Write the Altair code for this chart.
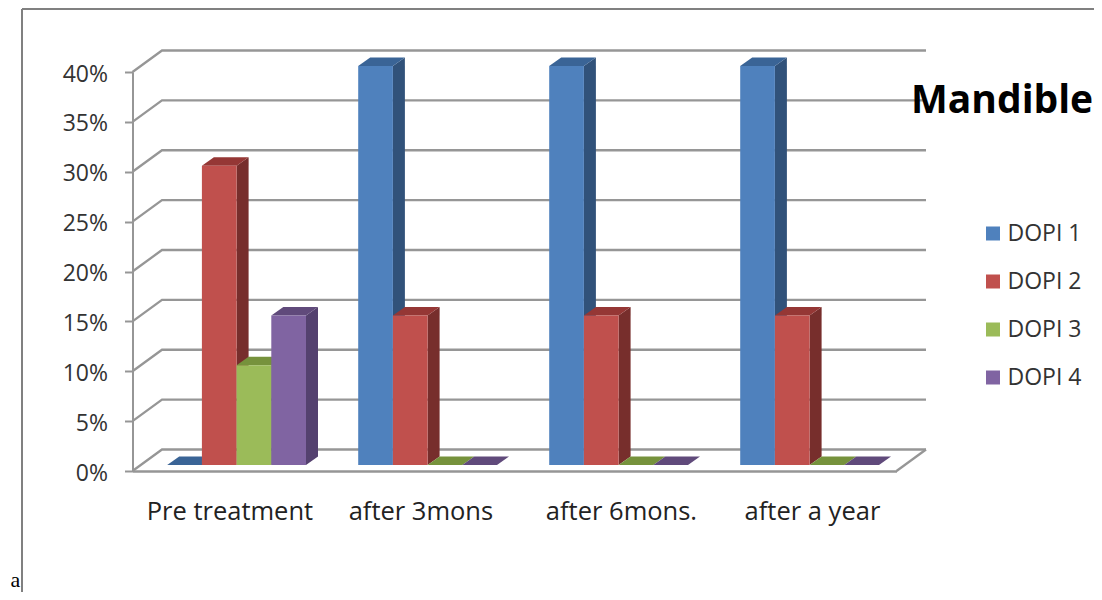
import altair as alt
import pandas as pd

# ---- data ----
categories = ["Pre treatment", "after 3mons", "after 6mons.", "after a year"]
series = ["DOPI 1", "DOPI 2", "DOPI 3", "DOPI 4"]
dopi1 = [0, 40, 40, 40]
dopi2 = [30, 15, 15, 15]
dopi3 = [10, 0, 0, 0]
dopi4 = [15, 0, 0, 0]
ticks = [0, 5, 10, 15, 20, 25, 30, 35, 40]

# ---- styles ----
front = ["#4F81BD", "#C0504D", "#9BBB59", "#8064A2"]
top_c = ["#3A6496", "#953735", "#76923C", "#604A7B"]
side_c = ["#31527A", "#772E2C", "#63793A", "#54416F"]
GRID = "#969696"
FONT = "Open Sans"

# ---- pseudo-3D layout, in axis units ----
PX_X = 191.0  # px per category
PX_Y = 9.975  # px per percent
WALL_DX, WALL_DY = 29.5 / PX_X, 21.5 / PX_Y
BAR_DX, BAR_DY = 12 / PX_X, 8.5 / PX_Y
BAR_W = 34.7 / PX_X
BAR_X0 = 34.7 / PX_X  # left of the first bar inside a category slot
BASE = 6 / PX_Y       # bars stand a little behind the front edge
LABEL_SHIFT = [0.01, 0.01, 0.06, 0.06]

xs = alt.Scale(domain=[0, 4], nice=False, zero=False)
ys = alt.Scale(domain=[0, 40], nice=False, zero=False)
x_axis = alt.Axis(values=[0], domainColor=GRID, domainWidth=2.5, ticks=False, labels=False,
                  grid=False, title=None)
y_axis = alt.Axis(values=ticks, labelExpr="datum.value + '%'", labelFont=FONT, labelFontSize=23,
                  labelColor="#333333", labelPadding=17, labelOffset=2, tickColor=GRID, tickSize=8,
                  tickWidth=2, domainColor=GRID, domainWidth=2, grid=False, title=None)
X = lambda f: alt.X(f, type="quantitative", scale=xs, axis=x_axis)
Y = lambda f: alt.Y(f, type="quantitative", scale=ys, axis=y_axis)

# walls
wall = []
for t in ticks:
    wall += [
        dict(k=t, o=0, x=0, y=t),
        dict(k=t, o=1, x=WALL_DX, y=t + WALL_DY),
        dict(k=t, o=2, x=4 + WALL_DX, y=t + WALL_DY),
    ]
wall += [dict(k=-1, o=0, x=4, y=0), dict(k=-1, o=1, x=4 + WALL_DX, y=WALL_DY)]
walls = alt.Chart(pd.DataFrame(wall)).mark_line(color=GRID, strokeWidth=2.3, clip=False).encode(
    x=X("x"), y=Y("y"), detail="k:N", order="o:Q"
)

layers = [walls]
values = [dopi1, dopi2, dopi3, dopi4]
color_scale = alt.Scale(domain=series, range=front)
for s, name in enumerate(series):
    sides, tops, fronts = [], [], []
    for i, v in enumerate(values[s]):
        left = i + BAR_X0 + s * BAR_W
        right = left + BAR_W
        hi = v + BASE
        fronts.append(dict(series=name, x=left, x2=right, y=hi, y2=BASE))
        for f in (0, 1):
            sides.append(dict(g=i, x=right + f * BAR_DX, y=hi + f * BAR_DY, y2=BASE + f * BAR_DY))
            tops.append(dict(g=i, x=left + f * BAR_DX, x2=right + f * BAR_DX, y=hi + f * BAR_DY))
    layers.append(alt.Chart(pd.DataFrame(sides)).mark_area(color=side_c[s], clip=False).encode(
        x=X("x"), y=Y("y"), y2="y2:Q", detail="g:N"))
    layers.append(alt.Chart(pd.DataFrame(tops)).mark_area(color=top_c[s], orient="horizontal", clip=False).encode(
        y=Y("y"), x=X("x"), x2="x2:Q", detail="g:N"))
    layers.append(alt.Chart(pd.DataFrame(fronts)).mark_rect(clip=False).encode(
        x=X("x"), x2="x2:Q", y=Y("y"), y2="y2:Q",
        color=alt.Color("series:N", scale=color_scale, title=None, legend=alt.Legend(
            orient="none", legendX=849, legendY=150, symbolType="square", symbolSize=196,
            symbolStrokeWidth=0, labelFont=FONT, labelFontSize=23, labelColor="#333333",
            labelOffset=3, rowPadding=24, values=series)),
    ))

# category labels
cat_df = pd.DataFrame({"label": categories, "x": [i + 0.5 + LABEL_SHIFT[i] for i in range(4)]})
layers.append(alt.Chart(cat_df).mark_text(font=FONT, fontSize=25.5, color="#222222", baseline="middle").encode(
    x=X("x"), y=alt.value(439.5), text="label:N"))

# chart name
layers.append(alt.Chart(pd.DataFrame({"t": ["Mandible"]})).mark_text(
    font=FONT, fontSize=39, fontWeight="bold", color="#000000", align="left", baseline="alphabetic"
).encode(x=alt.value(778.5), y=alt.value(41), text="t:N"))

# surrounding document frame and the stray letter
frame_c = "#808080"
layers.append(alt.Chart(pd.DataFrame({"a": [0]})).mark_rule(color=frame_c, strokeWidth=2, clip=False).encode(
    x=alt.value(-110.5), y=alt.value(-63), y2=alt.value(520)))
layers.append(alt.Chart(pd.DataFrame({"a": [0]})).mark_rule(color=frame_c, strokeWidth=2, clip=False).encode(
    x=alt.value(-110.5), x2=alt.value(962), y=alt.value(-63)))
layers.append(alt.Chart(pd.DataFrame({"t": ["a"]})).mark_text(
    font="Liberation Serif", fontSize=22, color="#000000", align="left", baseline="alphabetic"
).encode(x=alt.value(-122), y=alt.value(515), text="t:N"))

chart = alt.layer(*layers).resolve_scale(color="shared").properties(
    width=764, height=399,
    padding={"left": 124.5, "top": 64, "right": 197, "bottom": 121},
    autosize=alt.AutoSizeParams(type="none"),
    background="white",
).configure_view(stroke=None)

chart.save("out.html", embed_options={"renderer": "svg", "actions": False})
